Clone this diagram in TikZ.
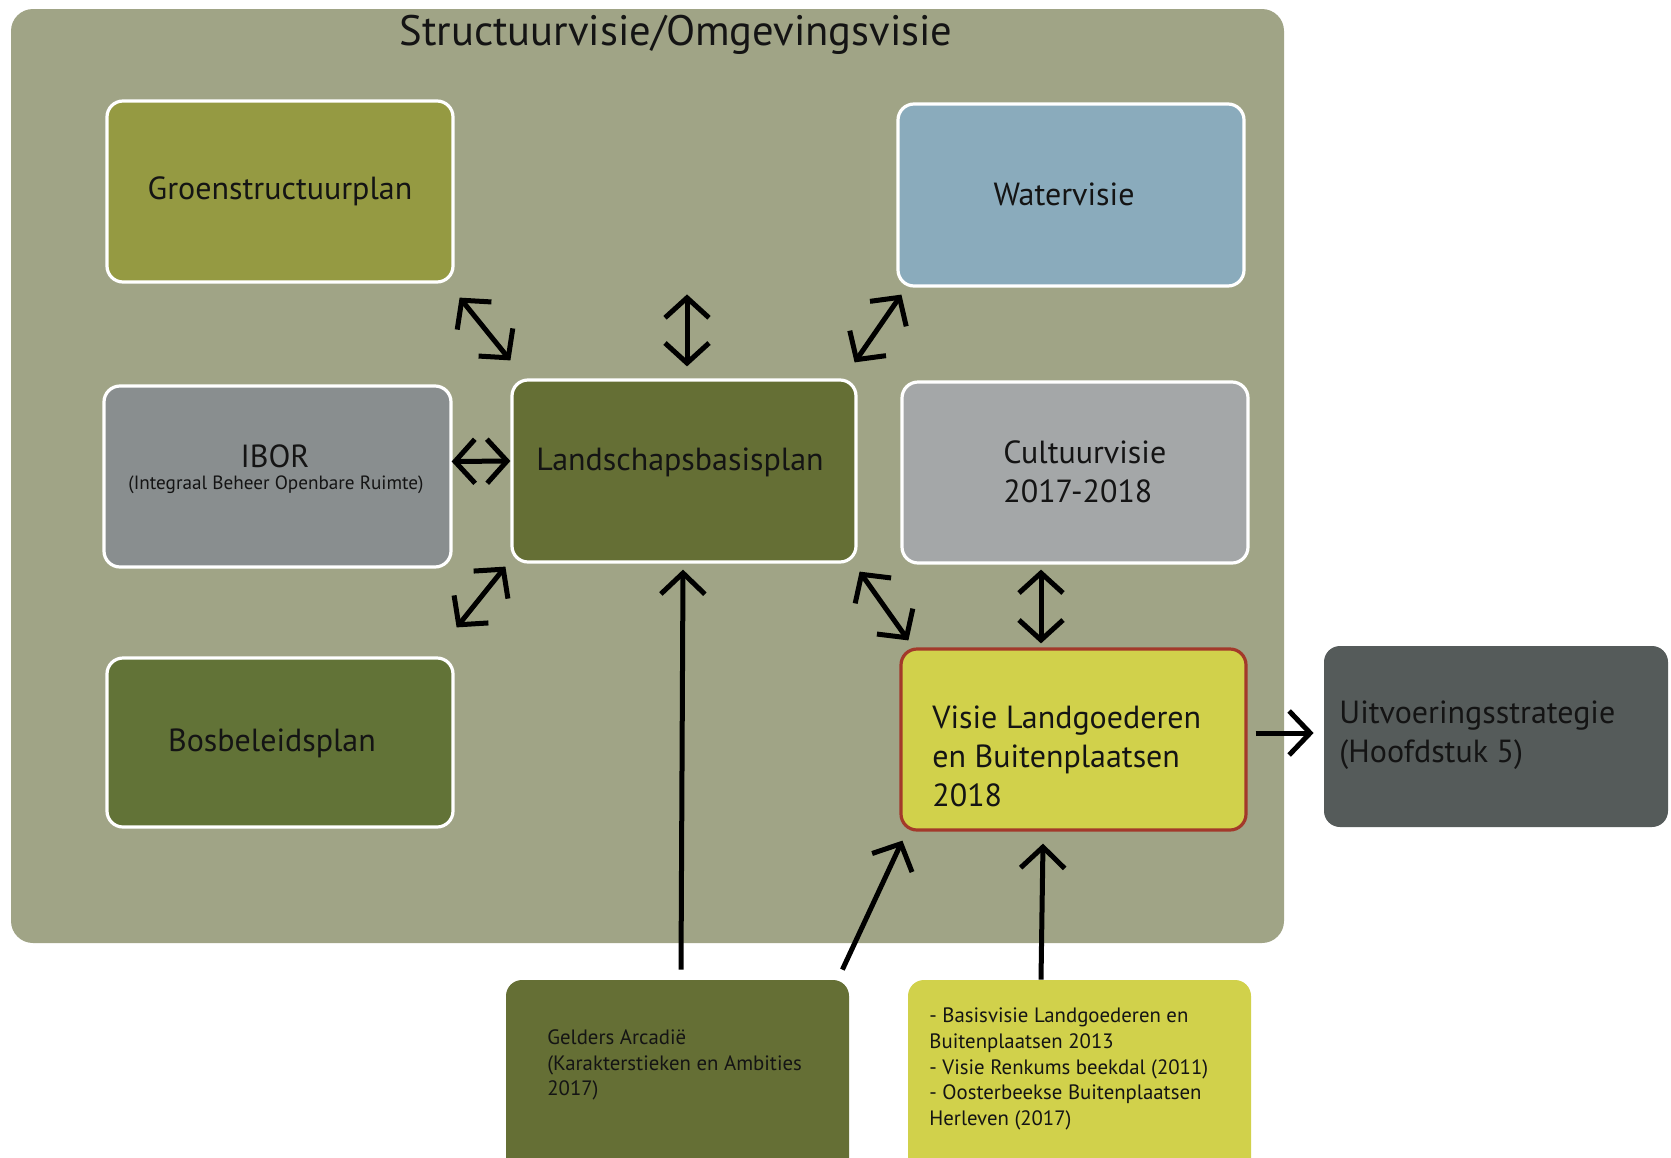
\documentclass[tikz,border=0pt]{standalone}
\usepackage{fontspec}
\setmainfont{PT Sans}
\usetikzlibrary{arrows.meta,calc}
\definecolor{bgc}{HTML}{A0A486}
\definecolor{groenc}{HTML}{959A42}
\definecolor{waterc}{HTML}{8AABBC}
\definecolor{iborc}{HTML}{898E8F}
\definecolor{landc}{HTML}{656F35}
\definecolor{cultc}{HTML}{A4A7A8}
\definecolor{bosc}{HTML}{627337}
\definecolor{visiec}{HTML}{D1D14B}
\definecolor{visieb}{HTML}{A3392A}
\definecolor{uitvc}{HTML}{555B5A}
\definecolor{txtc}{HTML}{141414}
\tikzset{
  box/.style={rectangle, rounded corners=8pt, draw=white, line width=1.6pt, inner sep=0pt},
  plainbox/.style={rectangle, rounded corners=8pt, draw=none, inner sep=0pt},
  lbl/.style={text=txtc, inner sep=0pt, font=\fontsize{16}{19.5}\selectfont},
  small/.style={text=txtc, inner sep=0pt, font=\fontsize{10.4}{12.8}\selectfont, align=left, anchor=west},
  conn/.style={line width=2.5pt, draw=black, arrows={Straight Barb[length=10pt,width=22pt,line width=2.5pt]-Straight Barb[length=10pt,width=22pt,line width=2.5pt]}},
  oneway/.style={line width=2.5pt, draw=black, arrows={-Straight Barb[length=10.5pt,width=22pt,line width=2.5pt]}}
}
\begin{document}
\begin{tikzpicture}[x=0.5pt,y=-0.5pt]
\useasboundingbox (0,0) rectangle (1671,1157);
\fill[white] (0,0) rectangle (1671,1157);
\begin{scope}
\clip (0,0) rectangle (1671,1157);
% background
\node[plainbox, fill=bgc, rounded corners=11pt, minimum width=636.5pt, minimum height=467pt] (bg) at (647.5,476) {};
\node[lbl, font=\fontsize{21.3}{24}\selectfont] (title) at (676,35) {Structuurvisie/Omgevingsvisie};
% boxes
\node[box, fill=groenc, minimum width=173pt, minimum height=90.5pt] (groen) at (280,191.5) {};
\node[box, fill=waterc, minimum width=173pt, minimum height=91pt] (water) at (1071,195) {};
\node[box, fill=iborc, minimum width=173.5pt, minimum height=90.5pt] (ibor) at (277.5,476.5) {};
\node[box, fill=landc, minimum width=172pt, minimum height=91pt] (land) at (684,471) {};
\node[box, fill=cultc, minimum width=173pt, minimum height=90.5pt] (cult) at (1075,472.5) {};
\node[box, fill=bosc, minimum width=173pt, minimum height=84.5pt] (bos) at (280,742.5) {};
\node[box, fill=visiec, draw=visieb, minimum width=172.5pt, minimum height=90.5pt] (visie) at (1073.5,739.5) {};
\node[plainbox, fill=uitvc, minimum width=172pt, minimum height=90.5pt] (uitv) at (1496,736.5) {};
\node[plainbox, fill=landc, minimum width=171.5pt, minimum height=110pt] (geld) at (677.5,1090) {};
\node[plainbox, fill=visiec, minimum width=171.5pt, minimum height=110pt] (basis) at (1079.5,1090) {};
% labels
\node[lbl] (tgroen) at (280,191) {Groenstructuurplan};
\node[lbl] (twater) at (1064,194) {Watervisie};
\node[lbl] (tibor) at (275,456) {IBOR};
\node[lbl, font=\fontsize{9.6}{11}\selectfont] (tibor2) at (276,485) {(Integraal Beheer Openbare Ruimte)};
\node[lbl] (tland) at (680,462.5) {Landschapsbasisplan};
\node[lbl, align=left, anchor=west] (tcult) at (1003,472) {Cultuurvisie\\2017-2018};
\node[lbl] (tbos) at (272,743) {Bosbeleidsplan};
\node[lbl, align=left, anchor=west] (tvisie) at (932,756) {Visie Landgoederen\\en Buitenplaatsen\\2018};
\node[lbl, align=left, anchor=west] (tuitv) at (1339,735) {Uitvoeringsstrategie\\(Hoofdstuk 5)};
\node[small] (tgeld) at (547,1065) {Gelders Arcadië\\(Karakterstieken en Ambities\\2017)};
\node[small] (tbasis) at (929,1069) {- Basisvisie Landgoederen en\\Buitenplaatsen 2013\\- Visie Renkums beekdal (2011)\\- Oosterbeekse Buitenplaatsen\\Herleven (2017)};
% connectors
\draw[conn] ($(groen.south east)+(5,14)$) -- ($(land.north west)+(0,-18)$);
\draw[conn] ($(land.north)+(3,-84)$) -- ($(land.north)+(3,-12)$);
\draw[conn] ($(water.south west)+(5,7)$) -- ($(land.north east)+(-3,-16)$);
\draw[conn] ($(ibor.east)+(-1,-15)$) -- ($(land.west)+(0,-10)$);
\draw[conn] ($(land.south west)+(-5,3)$) -- ($(bos.north east)+(2,-29)$);
\draw[conn] ($(land.south east)+(2,8)$) -- ($(visie.north west)+(9,-7)$);
\draw[conn] ($(cult.south)+(-34,5)$) -- ($(visie.north)+(-32.5,-4)$);
\draw[oneway] ($(visie.east)+(8,-6.5)$) -- ($(uitv.west)+(-10,-3.5)$);
\draw[oneway] ($(geld.north)+(3.5,-10)$) -- ($(land.south)+(-1,6)$);
\draw[oneway] ($(geld.north east)+(-7,-10)$) -- ($(visie.south west)+(3,9)$);
\draw[oneway] ($(basis.north)+(-38.5,0)$) -- ($(visie.south)+(-30.5,12)$);
\end{scope}
\end{tikzpicture}
\end{document}
